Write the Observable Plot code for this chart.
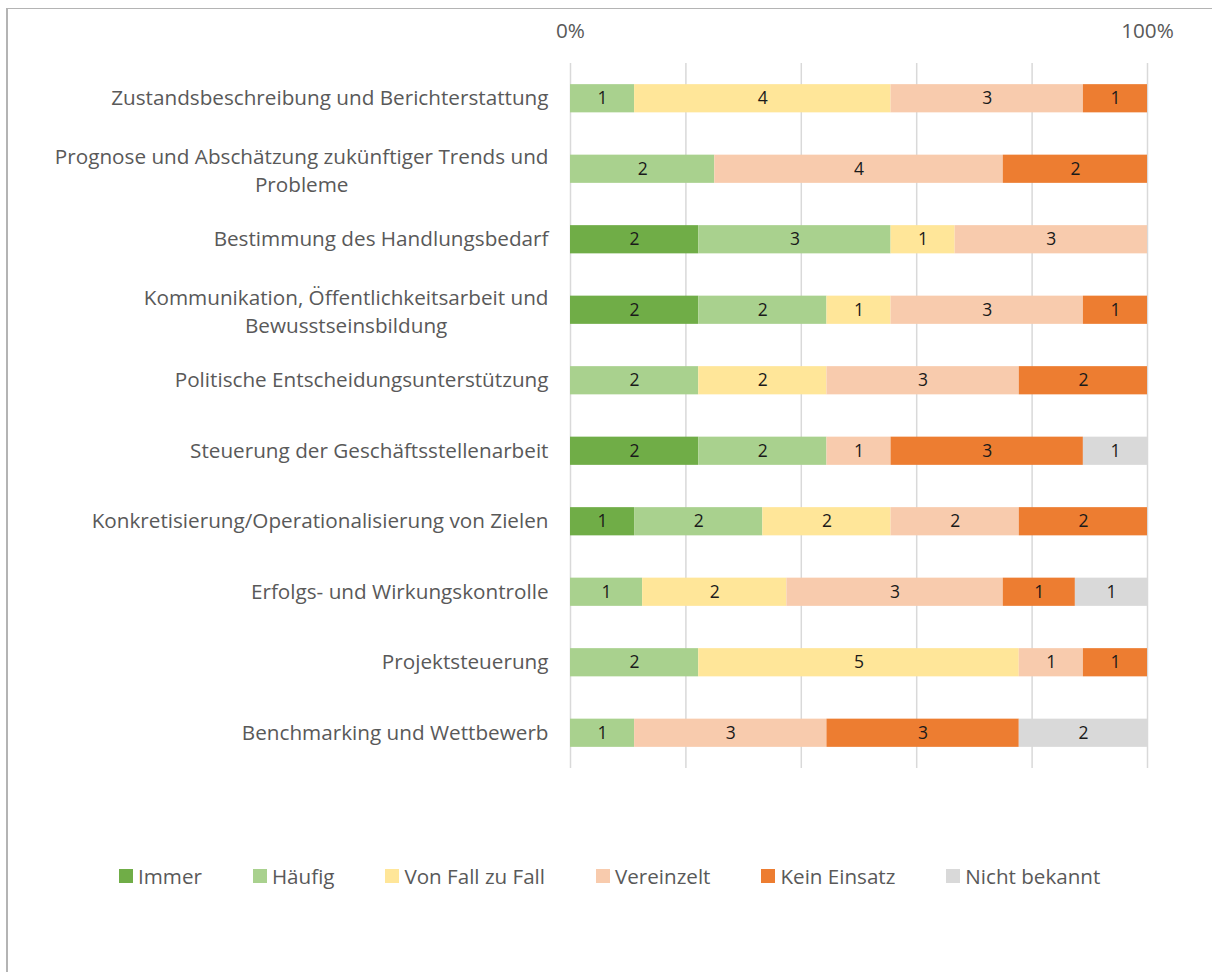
<!DOCTYPE html>
<html>
<head>
<meta charset="utf-8">
<script src="https://cdn.jsdelivr.net/npm/d3@7"></script>
<script src="https://cdn.jsdelivr.net/npm/@observablehq/plot@0.6"></script>
<style>
  html, body { margin: 0; padding: 0; background: #fff; overflow: hidden; width: 1212px; height: 972px; }
  #frame { position: absolute; left: 6px; top: 8px; width: 1400px; height: 1200px;
           border-left: 2px solid #b4b4b4; border-top: 1.5px solid #b4b4b4; box-sizing: border-box; }
  #chart { position: absolute; left: 0; top: 0; }
  #legend { position: absolute; left: 119px; top: 862px; display: flex; align-items: center;
            font-family: "Open Sans", sans-serif; font-size: 20.6px; color: #595959; white-space: nowrap; }
  #legend .item { display: flex; align-items: center; margin-right: 51px; }
  #legend .sw { width: 14px; height: 14px; margin-right: 5px; }
</style>
</head>
<body>
<div id="frame"></div>
<div id="chart"></div>
<div id="legend"></div>
<script>
const categories = [
  "Zustandsbeschreibung und Berichterstattung",
  "Prognose und Abschätzung zukünftiger Trends und\nProbleme",
  "Bestimmung des Handlungsbedarf",
  "Kommunikation, Öffentlichkeitsarbeit und\nBewusstseinsbildung",
  "Politische Entscheidungsunterstützung",
  "Steuerung der Geschäftsstellenarbeit",
  "Konkretisierung/Operationalisierung von Zielen",
  "Erfolgs- und Wirkungskontrolle",
  "Projektsteuerung",
  "Benchmarking und Wettbewerb"
];
const seriesNames = ["Immer", "Häufig", "Von Fall zu Fall", "Vereinzelt", "Kein Einsatz", "Nicht bekannt"];
const seriesColors = ["#70AD47", "#A9D18E", "#FFE699", "#F8CBAD", "#ED7D31", "#D9D9D9"];
const immer        = [0, 0, 2, 2, 0, 2, 1, 0, 0, 0];
const haeufig      = [1, 2, 3, 2, 2, 2, 2, 1, 2, 1];
const vonFallZuFall= [4, 0, 1, 1, 2, 0, 2, 2, 5, 0];
const vereinzelt   = [3, 4, 3, 3, 3, 1, 2, 3, 1, 3];
const keinEinsatz  = [1, 2, 0, 1, 2, 3, 2, 1, 1, 3];
const nichtBekannt = [0, 0, 0, 0, 0, 1, 0, 1, 0, 2];
const xTicks = [0, 1];
const gridTicks = [0, 0.2, 0.4, 0.6, 0.8, 1];

const seriesValues = [immer, haeufig, vonFallZuFall, vereinzelt, keinEinsatz, nichtBekannt];
const data = [];
categories.forEach((c, i) => {
  seriesNames.forEach((s, j) => {
    const v = seriesValues[j][i];
    if (v > 0) data.push({cat: c, series: s, value: v});
  });
});

const fontFamily = "'Open Sans', sans-serif";
const labelSize = 20.7;
const labelColor = "#595959";
const ctx = document.createElement("canvas").getContext("2d");
ctx.font = `${labelSize}px ${fontFamily}`;

const singleLine = categories.filter(c => !c.includes("\n"));
const multiLine = categories.filter(c => c.includes("\n"));
const labelGap = 22;

const multiMarks = multiLine.map(c => {
  const w = d3.max(c.split("\n"), l => ctx.measureText(l).width);
  return Plot.text([c], {
    y: d => d, text: d => d, frameAnchor: "left", textAnchor: "middle",
    dx: -labelGap - w / 2, lineHeight: 28 / labelSize, fontSize: labelSize, fill: labelColor
  });
});

const stackOpts = {x: "value", y: "cat", z: "series", order: seriesNames, offset: "normalize"};

const plot = Plot.plot({
  width: 1212,
  height: 800,
  marginLeft: 570,
  marginRight: 65,
  marginTop: 63,
  marginBottom: 32,
  style: {fontFamily: fontFamily, background: "transparent", overflow: "visible"},
  x: {domain: [0, 1], axis: null, round: false},
  y: {domain: categories, paddingInner: 0.6, paddingOuter: 0.3, axis: null, round: false},
  color: {domain: seriesNames, range: seriesColors},
  marks: [
    Plot.ruleX(gridTicks, {stroke: "#d9d9d9", strokeWidth: 1.5}),
    Plot.barX(data, Plot.stackX({...stackOpts, fill: "series"})),
    Plot.text(data, Plot.stackX({...stackOpts, text: "value", fill: "#1a1a1a", fontSize: 17.5})),
    Plot.axisX(xTicks, {anchor: "top", label: null, tickSize: 0, tickPadding: 26, tickFormat: d3.format(".0%"),
      fontSize: labelSize, fill: labelColor}),
    Plot.text(singleLine, {y: d => d, text: d => d, frameAnchor: "left", textAnchor: "end",
      dx: -labelGap, fontSize: labelSize, fill: labelColor}),
    ...multiMarks
  ]
});
document.getElementById("chart").appendChild(plot);

const legend = document.getElementById("legend");
seriesNames.forEach((s, i) => {
  const item = document.createElement("div");
  item.className = "item";
  const sw = document.createElement("div");
  sw.className = "sw";
  sw.style.background = seriesColors[i];
  const t = document.createElement("span");
  t.textContent = s;
  item.appendChild(sw);
  item.appendChild(t);
  legend.appendChild(item);
});
</script>
</body>
</html>
